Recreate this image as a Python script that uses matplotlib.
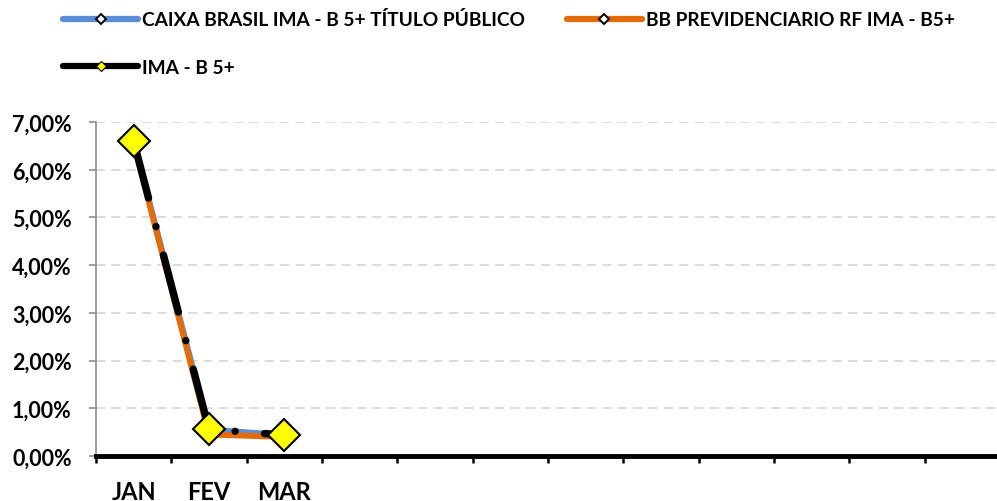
import matplotlib
matplotlib.use("Agg")
import matplotlib.pyplot as plt
from matplotlib.lines import Line2D
from matplotlib.ticker import FuncFormatter, FixedLocator
import numpy as np

# dados (rentabilidade mensal, %)
months = ['JAN', 'FEV', 'MAR', '', '', '', '', '', '', '', '', '']
caixa = [6.58, 0.55, 0.44]
bb = [6.55, 0.45, 0.40]
ima = [6.60, 0.56, 0.44]
names = ['CAIXA BRASIL IMA - B 5+ TÍTULO PÚBLICO',
         'BB PREVIDENCIARIO RF IMA - B5+',
         'IMA - B 5+']

plt.rcParams['font.family'] = ['Lato', 'DejaVu Sans']
plt.rcParams['font.weight'] = 'bold'

blue = '#5B8DD6'
orange = '#E36C0A'

fig = plt.figure(figsize=(9.97, 5.02), dpi=100)
ax = fig.add_axes([0.0963, 0.0896, 0.9067, 0.6654])

x = np.arange(len(caixa))
ax.plot(x, caixa, color=blue, lw=4.3, solid_capstyle='round', zorder=3)
ax.plot(x, bb, color=orange, lw=4.3, solid_capstyle='round', zorder=4)
ax.plot(x, ima, color='black', lw=5.3, linestyle=(0, (8, 4, 0.01, 4)),
        dash_capstyle='round', zorder=5)
ax.plot(x, ima, ls='none', marker='D', ms=16, mfc='#FFFF00', mec='black',
        mew=1.5, zorder=6)

ax.set_xlim(-0.5, len(months) - 0.5)
ax.set_ylim(0, 7)

# y axis
ax.set_yticks(np.arange(0, 8, 1))
ax.yaxis.set_major_formatter(FuncFormatter(lambda v, p: ('%.2f%%' % v).replace('.', ',')))
ax.tick_params(axis='y', direction='out', length=5, width=1.2, color='#8C8C8C',
               pad=12.5, labelsize=15.5)
ax.grid(axis='y', color='#D9D9D9', lw=1.3, linestyle=(0, (5, 3.5)), zorder=0)

# x axis: marcas nos limites, rotulos no centro
ax.xaxis.set_major_locator(FixedLocator(np.arange(-0.5, len(months), 1)))
ax.xaxis.set_minor_locator(FixedLocator(np.arange(len(months))))
ax.set_xticklabels([], minor=False)
ax.set_xticklabels(months, minor=True)
ax.tick_params(axis='x', which='major', direction='out', length=5, width=1.8,
               color='black')
ax.tick_params(axis='x', which='minor', length=0, pad=17, labelsize=17)

for s in ['top', 'right']:
    ax.spines[s].set_visible(False)
ax.spines['left'].set_color('#8C8C8C')
ax.spines['left'].set_linewidth(1.2)
ax.spines['bottom'].set_color('black')
ax.spines['bottom'].set_linewidth(3.5)
ax.spines['bottom'].set_capstyle('projecting')
ax.spines['bottom'].set_zorder(7)

# legenda (ordem coluna a coluna -> caixa, ima | bb)
h_caixa = Line2D([], [], color=blue, lw=4.5, solid_capstyle='round', marker='D',
                 ms=5.5, mfc='white', mec='black', mew=1.4)
h_bb = Line2D([], [], color=orange, lw=4.5, solid_capstyle='round', marker='D',
              ms=5.5, mfc='white', mec='black', mew=1.4)
h_ima = Line2D([], [], color='black', lw=4.5, solid_capstyle='round', marker='D',
               ms=5.5, mfc='#FFFF00', mec='black', mew=0.8)
fig.legend([h_caixa, h_ima, h_bb], [names[0], names[2], names[1]],
           loc='upper left', bbox_to_anchor=(0.052, 1.0),
           ncol=2, frameon=False, fontsize=13.8, handlelength=3.9,
           handletextpad=0.2, columnspacing=2.2, labelspacing=1.6,
           borderaxespad=0.2)

fig.savefig('out.png', dpi=100)
